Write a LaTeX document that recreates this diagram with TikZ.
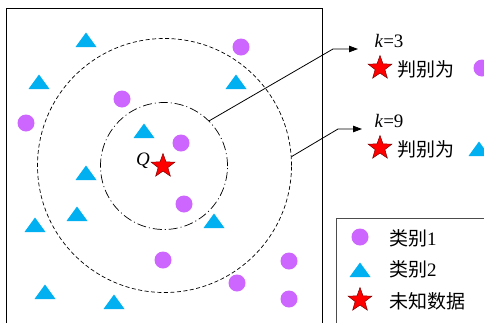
\documentclass[tikz,border=0pt]{standalone}
\usepackage{fontspec}
\setmainfont{Liberation Serif}
\newfontfamily\cjk{Noto Sans CJK SC}
\usetikzlibrary{shapes.geometric,arrows.meta}
\definecolor{cpurple}{HTML}{CC66FF}
\definecolor{ccyan}{HTML}{00B0F0}
\tikzset{
  dot/.pic={\fill[cpurple] (0,0) circle (8.5);},
  tri/.pic={\fill[ccyan] (-10.5,7) -- (10.5,7) -- (0,-7.5) -- cycle;},
  redstar/.style={star, star points=5, star point ratio=2.45, minimum size=25pt, inner sep=0pt, fill=red, draw=red!50!black, line width=0.5pt},
  lbl/.style={font=\fontsize{19}{22}\selectfont, inner sep=0pt},
  ring/.style={circle, draw, inner sep=0pt, line width=0.7pt},
  conn/.style={line width=0.8pt, -{Triangle[length=9pt,width=6.5pt]}},
}
\begin{document}
\begin{tikzpicture}[x=1pt,y=-1pt]
\useasboundingbox (0,0) rectangle (484,322);
\clip (0,0) rectangle (484,322);
% main frame
\draw[line width=1pt] (6,340) -- (6,8) -- (322,8) -- (322,340);
% rings
\node[ring, minimum size=127pt, dash pattern=on 9pt off 3pt on 1pt off 3pt] (inner) at (164,166) {};
\node[ring, minimum size=254pt, dash pattern=on 4pt off 2.5pt] (outer) at (164.5,165.5) {};
% class 1 points
\foreach \p in {(241,47),(122,99),(26,123),(181,143),(184,204),(163,260),(289,261),(237,283),(289,299)}
  \pic at \p {dot};
% class 2 points
\foreach \p in {(86,40),(39,82),(236,82),(144,131),(86,173),(77,214),(35,225),(214,221),(45,292),(114,302)}
  \pic at \p {tri};
% query
\node[redstar] (q) at (163,166) {};
\node[lbl, font=\fontsize{19}{22}\selectfont\itshape] (qlbl) at (143,161) {Q};
% connectors
\coordinate (b1) at (333,49);
\coordinate (e1) at (358,49);
\coordinate (b2) at (338,129);
\coordinate (e2) at (362,129);
\draw[conn] (inner.45) -- (b1) -- (e1);
\draw[conn] (outer.4) -- (b2) -- (e2);
% results
\node[lbl] (k3) at (389,41) {\textit{k}=3};
\node[redstar] (s1) at (380,68) {};
\node[lbl, anchor=west] (t1) at (397,69) {\cjk 判别为};
\pic at (482,68) {dot};
\node[lbl] (k9) at (389,121) {\textit{k}=9};
\node[redstar] (s2) at (380,148) {};
\node[lbl, anchor=west] (t2) at (397,149) {\cjk 判别为};
\pic at (479,149) {tri};
% legend
\draw[line width=0.6pt, draw=black!70] (336,340) -- (336,218) -- (500,218);
\pic at (360,237) {dot};
\node[lbl, anchor=west] (l1) at (389,238) {{\cjk 类别}1};
\pic at (360,270) {tri};
\node[lbl, anchor=west] (l2) at (389,269) {{\cjk 类别}2};
\node[redstar] (s3) at (360,300) {};
\node[lbl, anchor=west] (l3) at (389,301) {\cjk 未知数据};
\end{tikzpicture}
\end{document}
